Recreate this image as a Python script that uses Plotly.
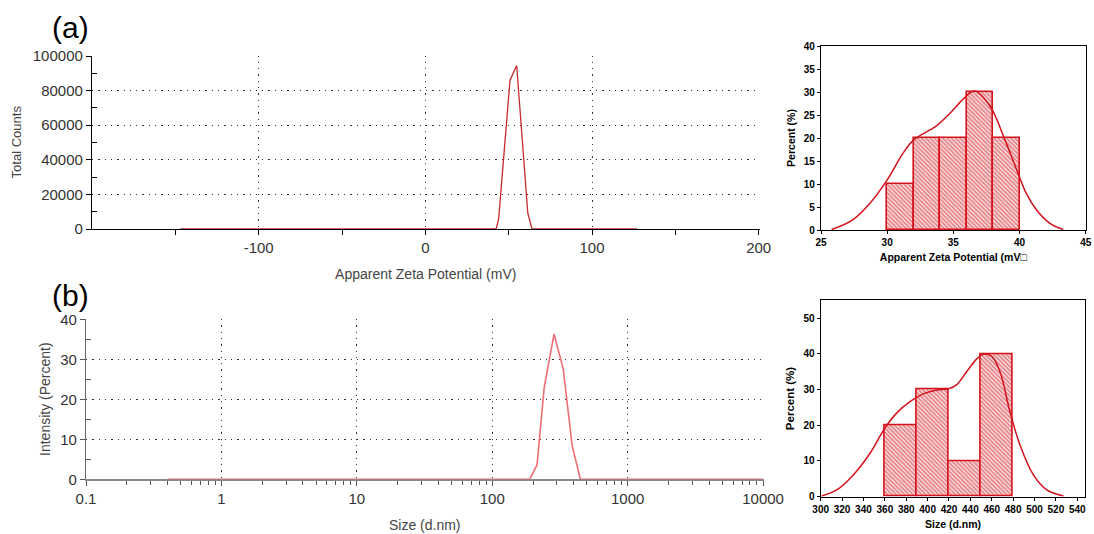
import plotly.graph_objects as go

W, H = 1094, 534

# ---- (a) zeta potential distribution ----
zeta_mv = [-147, 42.5, 44.0, 50.8, 54.8, 61.5, 64.0, 127]
zeta_counts = [0, 0, 6000, 86000, 94500, 9000, 0, 0]

# ---- (b) size distribution ----
size_nm = [0.4, 189, 214, 242, 286, 334, 389, 447, 10000]
size_intensity = [0, 0, 3.6, 23.0, 36.3, 27.7, 8.5, 0, 0]

# ---- top-right histogram (zeta) ----
zeta_bin_left = [30, 32, 34, 36, 38]
zeta_bin_width = [2, 2, 2, 2, 2]
zeta_pct = [10, 20, 20, 30, 20]
zeta_curve_x = [25.8, 27.4, 28.7, 30.0, 31.2, 32.0, 33.2, 33.7, 34.75, 35.8, 36.6, 37.8, 38.8, 39.8, 40.5, 41.3, 42.3, 43.3]
zeta_curve_y = [0.1, 2.2, 5.8, 10.9, 16.7, 19.6, 21.7, 22.6, 25.4, 28.6, 30.2, 26.8, 20.3, 13.0, 8.0, 4.3, 1.45, 0.1]

# ---- bottom-right histogram (size) ----
size_bin_left = [360, 390, 420, 450]
size_bin_width = [30, 30, 30, 30]
size_pct = [20, 30, 10, 40]
size_curve_x = [300.9, 315, 330.5, 346, 360, 371, 383.5, 396, 408.5, 419.4, 427, 436.5, 446, 452, 460, 467.7, 477, 486.4, 499, 511.4, 527]
size_curve_y = [0.2, 1.9, 6.1, 12.1, 19.2, 23.4, 26.6, 28.8, 29.9, 30.2, 31.3, 35.0, 38.6, 39.9, 39.3, 35.0, 23.8, 14.5, 6.1, 1.9, 0.2]

RED = "#d4121c"
LFONT = "Liberation Sans, Arial, sans-serif"


def dom_x(a, b):
    return [a / W, b / W]


def dom_y(top, bottom):
    return [1 - bottom / H, 1 - top / H]


fig = go.Figure()

fig.add_trace(go.Scatter(x=zeta_mv, y=zeta_counts, mode="lines",
                         line=dict(color="#c8282e", width=1.3),
                         xaxis="x", yaxis="y", showlegend=False, cliponaxis=False))
fig.add_trace(go.Scatter(x=size_nm, y=size_intensity, mode="lines",
                         line=dict(color="#ee6e74", width=1.6),
                         xaxis="x2", yaxis="y2", showlegend=False, cliponaxis=False))

PATTERN = dict(shape="\\", fgcolor=RED, bgcolor="white", size=3, solidity=0.7)

fig.add_trace(go.Bar(x=zeta_bin_left, y=zeta_pct, width=zeta_bin_width, offset=0,
                     marker=dict(color="white", line=dict(color=RED, width=1.6), pattern=PATTERN),
                     xaxis="x3", yaxis="y3", showlegend=False))
fig.add_trace(go.Scatter(x=zeta_curve_x, y=zeta_curve_y, mode="lines",
                         line=dict(color=RED, width=1.5, shape="spline"),
                         xaxis="x3", yaxis="y3", showlegend=False))

fig.add_trace(go.Bar(x=size_bin_left, y=size_pct, width=size_bin_width, offset=0,
                     marker=dict(color="white", line=dict(color=RED, width=1.6), pattern=PATTERN),
                     xaxis="x4", yaxis="y4", showlegend=False))
fig.add_trace(go.Scatter(x=size_curve_x, y=size_curve_y, mode="lines",
                         line=dict(color=RED, width=1.5, shape="spline"),
                         xaxis="x4", yaxis="y4", showlegend=False))

GRID = dict(showgrid=True, gridcolor="#333333", gridwidth=1.2, griddash="1.3px,5px")
TICKF = dict(family=LFONT, size=15, color="#333333")
TITLEF = dict(family=LFONT, size=14, color="#444444")
BOLDT = dict(family=LFONT, size=10, color="black", weight="bold")
BOLDTITLE = dict(family=LFONT, size=10.5, color="black", weight="bold")

layout = dict(
    width=W, height=H, autosize=False,
    margin=dict(l=0, r=0, t=0, b=0),
    paper_bgcolor="white", plot_bgcolor="white",
    bargap=0,
    xaxis=dict(domain=dom_x(92, 759.5), anchor="y", range=[-200, 200.5], automargin=False,
               tickmode="array", tickvals=[-100, 0, 100, 200], ticktext=["-100", "0", "100", "200"],
               ticks="outside", ticklen=5, tickcolor="black",
               minor=dict(tickmode="array", tickvals=[-150, -50, 50, 150], ticks="outside",
                          ticklen=5, tickcolor="black", showgrid=False),
               showline=True, linecolor="black", linewidth=1.3, zeroline=False, layer="below traces",
               tickfont=TICKF, title=dict(text="Apparent Zeta Potential (mV)", font=TITLEF, standoff=14),
               **GRID),
    yaxis=dict(domain=dom_y(55.5, 229), anchor="x", range=[0, 100300], automargin=False,
               tickmode="array", tickvals=[0, 20000, 40000, 60000, 80000, 100000],
               ticktext=["0", "20000", "40000", "60000", "80000", "100000"],
               ticks="outside", ticklen=5, tickcolor="black",
               minor=dict(tickmode="array", tickvals=[10000, 30000, 50000, 70000, 90000],
                          ticks="inside", ticklen=5, tickcolor="black", showgrid=False),
               showline=True, linecolor="black", linewidth=1.3, zeroline=False,
               tickfont=TICKF, title=dict(text="Total Counts", font=dict(family=LFONT, size=13, color="#444444"), standoff=8),
               **GRID),
    xaxis2=dict(domain=dom_x(86, 763.5), anchor="y2", type="log", range=[-1, 4.003], automargin=False,
                tickmode="array", tickvals=[0.1, 1, 10, 100, 1000, 10000],
                ticktext=["0.1", "1", "10", "100", "1000", "10000"],
                ticks="outside", ticklen=5, tickcolor="#555555",
                minor=dict(tickmode="array",
                           tickvals=[m * d for d in [0.1, 1, 10, 100, 1000] for m in range(2, 10)],
                           ticks="outside", ticklen=4, tickcolor="#555555", showgrid=False),
                showline=True, linecolor="#888888", linewidth=1.5, zeroline=False, layer="below traces",
                tickfont=TICKF, title=dict(text="Size (d.nm)", font=TITLEF, standoff=14),
                **GRID),
    yaxis2=dict(domain=dom_y(319, 479.3), anchor="x2", range=[0, 40.1], automargin=False,
                tickmode="array", tickvals=[0, 10, 20, 30, 40],
                ticks="outside", ticklen=5, tickcolor="#555555",
                minor=dict(tickmode="array", tickvals=[5, 15, 25, 35],
                           ticks="inside", ticklen=5, tickcolor="#555555", showgrid=False),
                showline=True, linecolor="#666666", linewidth=1.3, zeroline=False,
                tickfont=TICKF, title=dict(text="Intensity (Percent)", font=TITLEF, standoff=6),
                **GRID),
    xaxis3=dict(domain=dom_x(821, 1085.7), anchor="y3", range=[25, 45], automargin=False,
                tickmode="array", tickvals=[25, 30, 35, 40, 45],
                ticks="outside", ticklen=3, tickcolor="black",
                showline=True, mirror=True, linecolor="black", linewidth=1.3,
                showgrid=False, zeroline=False, tickfont=BOLDT,
                title=dict(text="Apparent Zeta Potential (mV\u25a1", standoff=6, font=BOLDTITLE)),
    yaxis3=dict(domain=dom_y(46, 230), anchor="x3", range=[0, 40], automargin=False,
                tickmode="array", tickvals=[0, 5, 10, 15, 20, 25, 30, 35, 40],
                ticks="outside", ticklen=3, tickcolor="black",
                showline=True, mirror=True, linecolor="black", linewidth=1.3,
                showgrid=False, zeroline=False, tickfont=BOLDT,
                title=dict(text="Percent (%)", standoff=6, font=BOLDTITLE)),
    xaxis4=dict(domain=dom_x(820.7, 1085.3), anchor="y4", range=[300, 547.5], automargin=False,
                tickmode="array", tickvals=list(range(300, 541, 20)),
                ticks="outside", ticklen=3, tickcolor="black",
                showline=True, mirror=True, linecolor="black", linewidth=1.3,
                showgrid=False, zeroline=False, tickfont=BOLDT,
                title=dict(text="Size (d.nm)", standoff=6, font=BOLDTITLE)),
    yaxis4=dict(domain=dom_y(300.3, 496.7), anchor="x4", range=[0, 55], automargin=False,
                tickmode="array", tickvals=[0, 10, 20, 30, 40, 50],
                ticks="outside", ticklen=3, tickcolor="black",
                showline=True, mirror=True, linecolor="black", linewidth=1.3,
                showgrid=False, zeroline=False, tickfont=BOLDT,
                title=dict(text="Percent (%)", standoff=6,
                           font=dict(family=LFONT, size=11.5, color="black", weight="bold"))),
    annotations=[
        dict(text="(a)", x=70 / W, y=1 - 27 / H, xref="paper", yref="paper",
             xanchor="center", yanchor="middle",
             showarrow=False, font=dict(family=LFONT, size=30, color="black")),
        dict(text="(b)", x=70 / W, y=1 - 295 / H, xref="paper", yref="paper",
             xanchor="center", yanchor="middle",
             showarrow=False, font=dict(family=LFONT, size=30, color="black")),
    ],
)
fig.update_layout(**layout)

fig.write_html("out.html", config={"displayModeBar": False},
               post_script="document.body.style.margin='0px';")
